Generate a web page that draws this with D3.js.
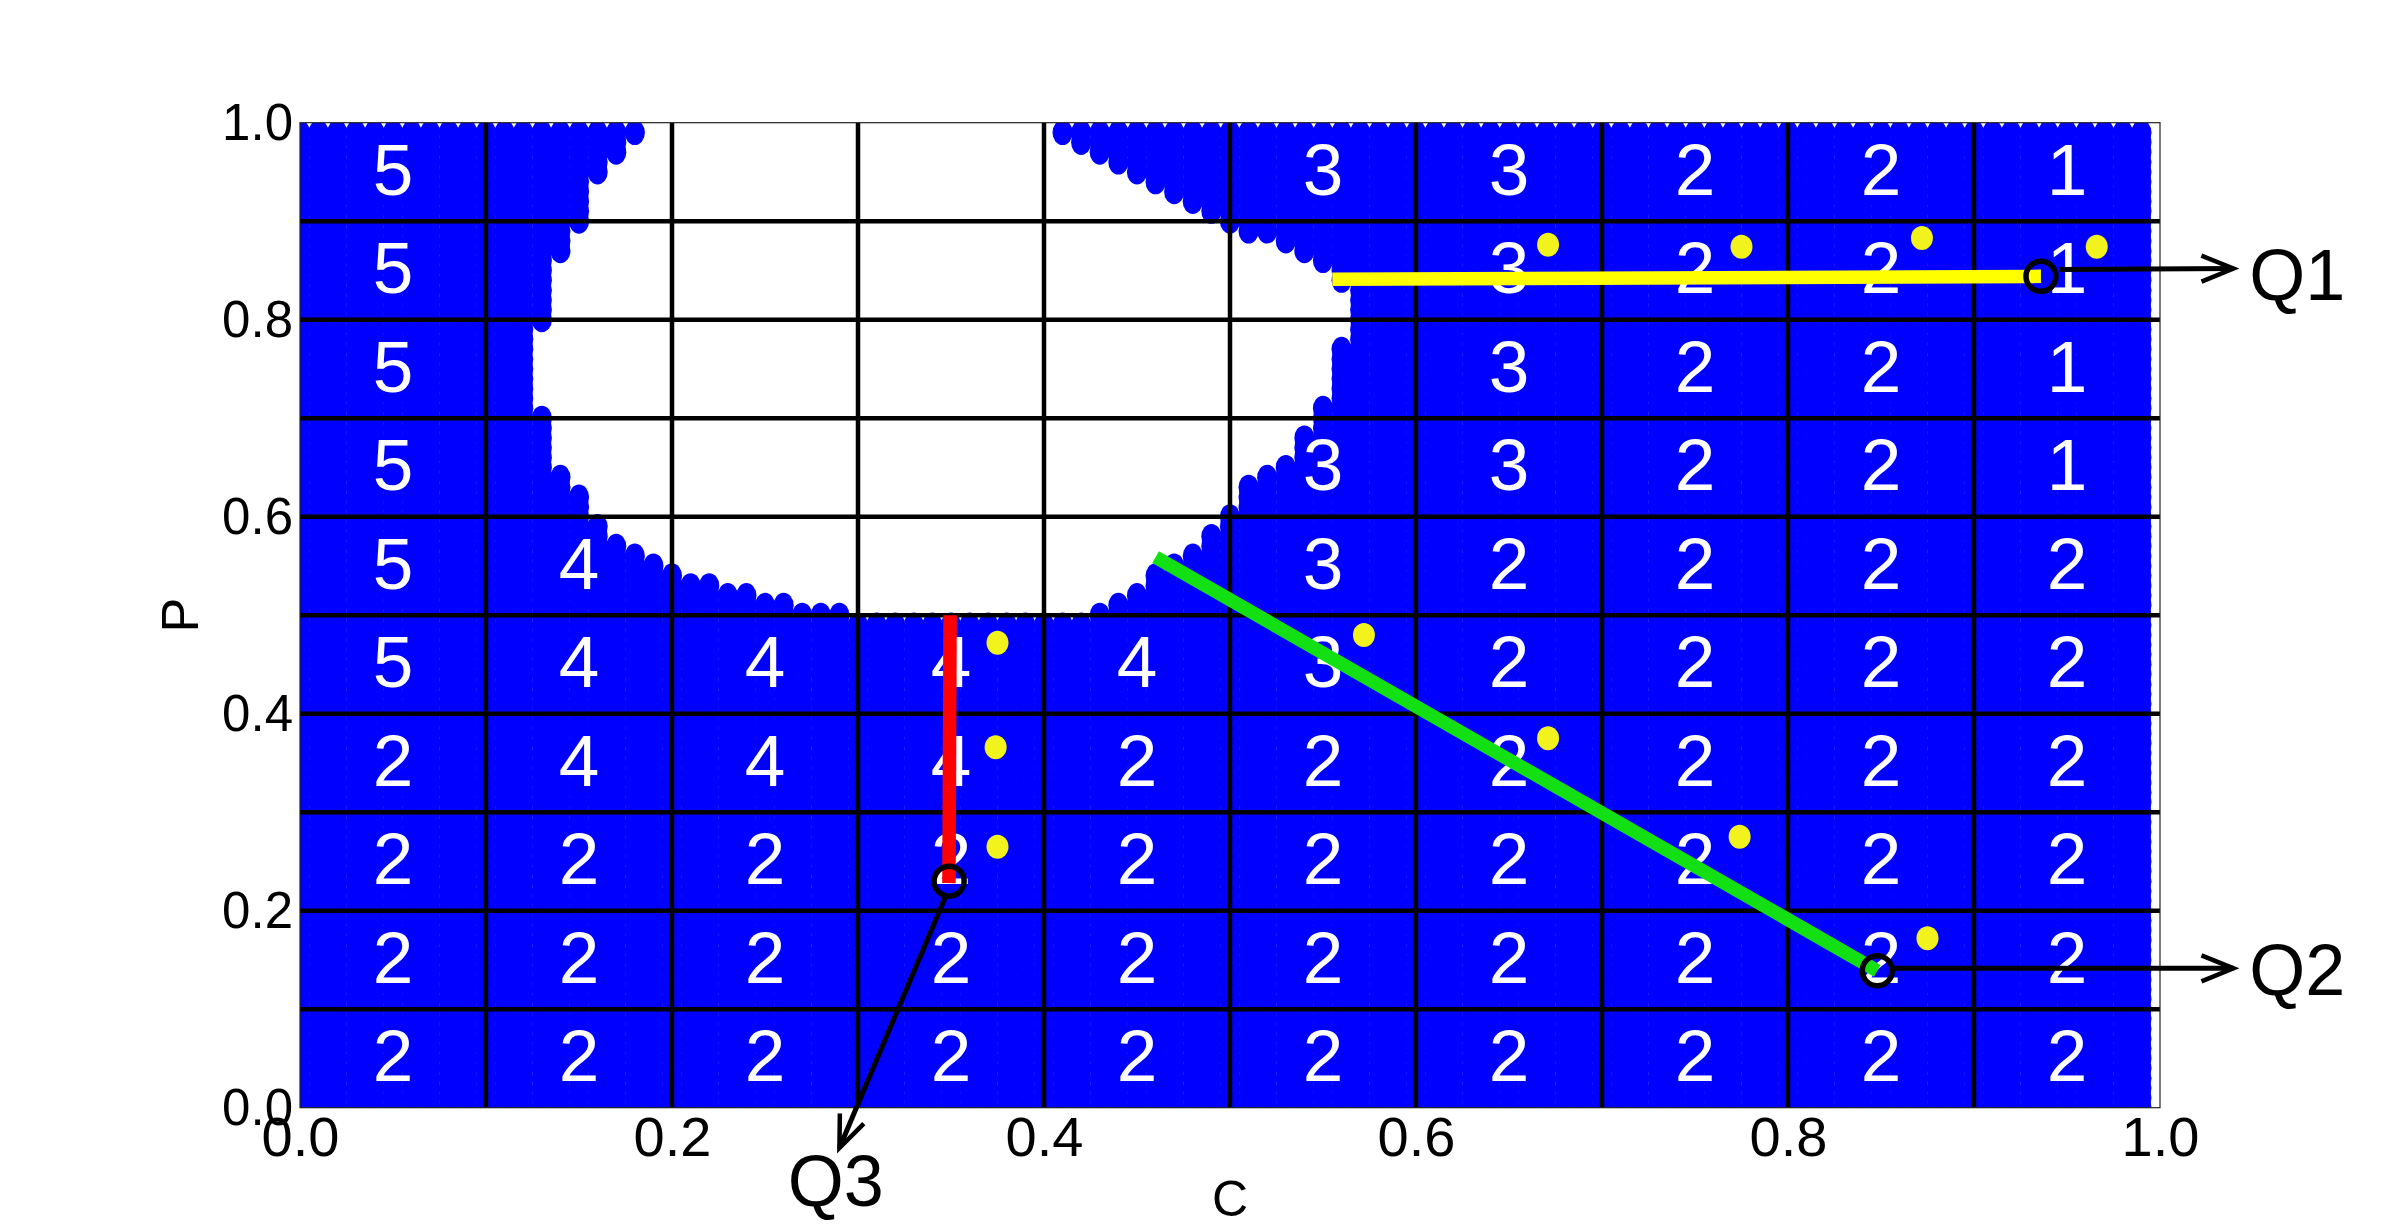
<!DOCTYPE html>
<html>
<head>
<meta charset="utf-8">
<script src="https://cdn.jsdelivr.net/npm/d3@7"></script>
<style>
html,body{margin:0;padding:0;background:#fff;}
svg{display:block;}
text{font-family:"Liberation Sans",Arial,sans-serif;}
</style>
</head>
<body>
<svg id="chart" width="2400" height="1232"></svg>
<script>
// ---------------- data ----------------
// sampled (C,P) plane: points every 0.01 from 0 to 0.99 on both axes
const sampleStart = 0, sampleStop = 0.99, sampleStep = 0.01;

// white (infeasible) region: for each P row, last blue point on its left and first blue point on its right
const holeP = [0.99,0.98,0.97,0.96,0.95,0.94,0.93,0.92,0.91,0.90,
               0.89,0.88,0.87,0.86,0.85,0.84,0.83,0.82,0.81,0.80,
               0.79,0.78,0.77,0.76,0.75,0.74,0.73,0.72,0.71,0.70,
               0.69,0.68,0.67,0.66,0.65,0.64,0.63,0.62,0.61,0.60,
               0.59,0.58,0.57,0.56,0.55,0.54,0.53,0.52,0.51,0.50];
const holeLeftC = [0.18,0.17,0.17,0.16,0.16,0.15,0.15,0.15,0.15,0.15,
                   0.14,0.14,0.14,0.13,0.13,0.13,0.13,0.13,0.13,0.13,
                   0.12,0.12,0.12,0.12,0.12,0.12,0.12,0.12,0.12,0.13,
                   0.13,0.13,0.13,0.13,0.13,0.14,0.14,0.15,0.15,0.15,
                   0.16,0.16,0.17,0.18,0.19,0.20,0.22,0.24,0.26,0.29];
const holeRightC = [0.41,0.42,0.43,0.44,0.45,0.46,0.47,0.48,0.49,0.50,
                    0.51,0.53,0.54,0.55,0.56,0.56,0.57,0.57,0.57,0.57,
                    0.57,0.57,0.56,0.56,0.56,0.56,0.56,0.56,0.55,0.55,
                    0.55,0.54,0.54,0.54,0.53,0.52,0.51,0.51,0.51,0.50,
                    0.50,0.49,0.49,0.48,0.47,0.46,0.46,0.45,0.44,0.43];

// cell boundaries and the number written in each cell (rows listed from top, P 0.9-1.0, to bottom)
const cellEdges = [0,0.1,0.2,0.3,0.4,0.5,0.6,0.7,0.8,0.9,1.0];
const cellLabels = [
  ["5","","","","","3","3","2","2","1"],
  ["5","","","","","","3","2","2","1"],
  ["5","","","","","","3","2","2","1"],
  ["5","","","","","3","3","2","2","1"],
  ["5","4","","","","3","2","2","2","2"],
  ["5","4","4","4","4","3","2","2","2","2"],
  ["2","4","4","4","2","2","2","2","2","2"],
  ["2","2","2","2","2","2","2","2","2","2"],
  ["2","2","2","2","2","2","2","2","2","2"],
  ["2","2","2","2","2","2","2","2","2","2"]
];

// yellow markers
const yellowC = [0.671,0.775,0.872,0.966,0.572,0.375,0.374,0.375,0.671,0.774,0.875];
const yellowP = [0.876,0.874,0.883,0.874,0.480,0.472,0.366,0.265,0.375,0.275,0.172];

// paths
const pathQ1C = [0.555,0.936], pathQ1P = [0.841,0.844];   // yellow
const pathQ2C = [0.460,0.848], pathQ2P = [0.559,0.139];   // green
const pathQ3C = [0.3495,0.3489], pathQ3P = [0.500,0.228]; // red

// end points (open circles) and annotations
const qNames = ["Q1","Q2","Q3"];
const qPointC = [0.936,0.848,0.349];
const qPointP = [0.844,0.139,0.230];
const qArrowFromC = [0.946,0.857,0.347];
const qArrowFromP = [0.851,0.1415,0.214];
const qArrowToC = [1.0395,1.0395,0.290];
const qArrowToP = [0.852,0.1415,-0.041];
const qTextC = [1.048,1.048,0.288];
const qTextP = [0.846,0.141,-0.073];
const qTextAnchor = ["start","start","middle"];

const xTicks = [0,0.2,0.4,0.6,0.8,1.0];
const yTicks = [0,0.2,0.4,0.6,0.8,1.0];
const xLabel = "C", yLabel = "P";

// ---------------- drawing ----------------
(function(){
const svg = d3.select("#chart");
const L = 300, R = 2160, T = 122.7, B = 1107.7;
const x = d3.scaleLinear().domain([0,1]).range([L,R]);
const y = d3.scaleLinear().domain([0,1]).range([B,T]);

svg.append("defs").append("clipPath").attr("id","plotclip")
  .append("rect").attr("x",L).attr("y",T).attr("width",R-L).attr("height",B-T);

// sampled feasible points
const nSteps = Math.round((sampleStop-sampleStart)/sampleStep);
const holeIndex = new Map(holeP.map((p,i)=>[Math.round(p*100),i]));
const pts = [];
for (let j=0;j<=nSteps;j++){
  const pi = Math.round((sampleStart + j*sampleStep)*100);
  for (let i=0;i<=nSteps;i++){
    const ci = Math.round((sampleStart + i*sampleStep)*100);
    if (holeIndex.has(pi)){
      const k = holeIndex.get(pi);
      if (ci > Math.round(holeLeftC[k]*100) && ci < Math.round(holeRightC[k]*100)) continue;
    }
    pts.push([ci/100, pi/100]);
  }
}
const dotLayer = svg.append("g").attr("clip-path","url(#plotclip)");
dotLayer.selectAll("ellipse").data(pts).enter().append("ellipse")
  .attr("cx",d=>x(d[0])).attr("cy",d=>y(d[1]))
  .attr("rx",10.1).attr("ry",12.5).attr("fill","#0000ff");

// grid lines
const inner = cellEdges.slice(1,-1);
const grid = svg.append("g");
grid.selectAll("line.v").data(inner).enter().append("line").attr("class","v")
  .attr("x1",d=>x(d)).attr("x2",d=>x(d)).attr("y1",T).attr("y2",B)
  .attr("stroke","#000").attr("stroke-width",4.5);
grid.selectAll("line.h").data(inner).enter().append("line").attr("class","h")
  .attr("y1",d=>y(d)).attr("y2",d=>y(d)).attr("x1",L).attr("x2",R)
  .attr("stroke","#000").attr("stroke-width",4.5);
svg.append("rect").attr("x",L).attr("y",T).attr("width",R-L).attr("height",B-T)
  .attr("fill","none").attr("stroke","#222").attr("stroke-width",1.2);

// cell numbers
const cellData = [];
cellLabels.forEach((row,r)=>row.forEach((lab,c)=>{
  if (lab) cellData.push({lab, cMid:(cellEdges[c]+cellEdges[c+1])/2, pMid:(cellEdges[9-r]+cellEdges[10-r])/2});
}));
svg.append("g").selectAll("text").data(cellData).enter().append("text")
  .attr("x",d=>x(d.cMid)).attr("y",d=>y(d.pMid)+23)
  .attr("text-anchor","middle").attr("font-size",73).attr("fill","#fff")
  .text(d=>d.lab);

// yellow markers
svg.append("g").selectAll("ellipse").data(yellowC.map((c,i)=>[c,yellowP[i]])).enter().append("ellipse")
  .attr("cx",d=>x(d[0])).attr("cy",d=>y(d[1])).attr("rx",11).attr("ry",12)
  .attr("fill","#f2f21c");

// paths
const lineGen = d3.line().x(d=>x(d[0])).y(d=>y(d[1]));
[[pathQ1C,pathQ1P,"#ffff00"],[pathQ2C,pathQ2P,"#12e012"],[pathQ3C,pathQ3P,"#ff0000"]].forEach(([cs,ps,col])=>{
  svg.append("path").attr("d",lineGen(cs.map((c,i)=>[c,ps[i]])))
    .attr("fill","none").attr("stroke",col).attr("stroke-width",13.5).attr("stroke-linecap","butt");
});

// circles, arrows, labels
qNames.forEach((name,i)=>{
  svg.append("circle").attr("cx",x(qPointC[i])).attr("cy",y(qPointP[i])).attr("r",15)
    .attr("fill","none").attr("stroke","#000").attr("stroke-width",5.5);
  const x0 = x(qArrowFromC[i]), y0 = y(qArrowFromP[i]);
  const x1 = x(qArrowToC[i]), y1 = y(qArrowToP[i]);
  const len = Math.hypot(x1-x0,y1-y0), ux=(x1-x0)/len, uy=(y1-y0)/len;
  const bx = x1-32*ux, by = y1-32*uy;
  svg.append("line").attr("x1",x0).attr("y1",y0).attr("x2",x1).attr("y2",y1)
    .attr("stroke","#000").attr("stroke-width",5);
  svg.append("path")
    .attr("d",`M${bx-13*uy},${by+13*ux}L${x1},${y1}L${bx+13*uy},${by-13*ux}`)
    .attr("fill","none").attr("stroke","#000").attr("stroke-width",4.5);
  svg.append("text").attr("x",x(qTextC[i])).attr("y",y(qTextP[i])+26)
    .attr("text-anchor",qTextAnchor[i]).attr("font-size",72).attr("fill","#000").text(name);
});

// axes (labels only)
const xAxis = svg.append("g").attr("transform",`translate(0,${B})`)
  .call(d3.axisBottom(x).tickValues(xTicks).tickFormat(d3.format(".1f")).tickSize(0).tickPadding(9));
xAxis.select(".domain").remove();
xAxis.selectAll("text").attr("font-size",56).attr("fill","#000").attr("font-family","Liberation Sans, Arial, sans-serif");
const yAxis = svg.append("g").attr("transform",`translate(${L},0)`)
  .call(d3.axisLeft(y).tickValues(yTicks).tickFormat(d3.format(".1f")).tickSize(0).tickPadding(7));
yAxis.select(".domain").remove();
yAxis.selectAll("text").attr("font-size",51).attr("fill","#000").attr("font-family","Liberation Sans, Arial, sans-serif");

svg.append("text").attr("x",(L+R)/2).attr("y",1216).attr("text-anchor","middle")
  .attr("font-size",50).text(xLabel);
svg.append("text").attr("transform",`translate(198,${(T+B)/2}) rotate(-90)`)
  .attr("text-anchor","middle").attr("font-size",52).text(yLabel);
})();
</script>
</body>
</html>
